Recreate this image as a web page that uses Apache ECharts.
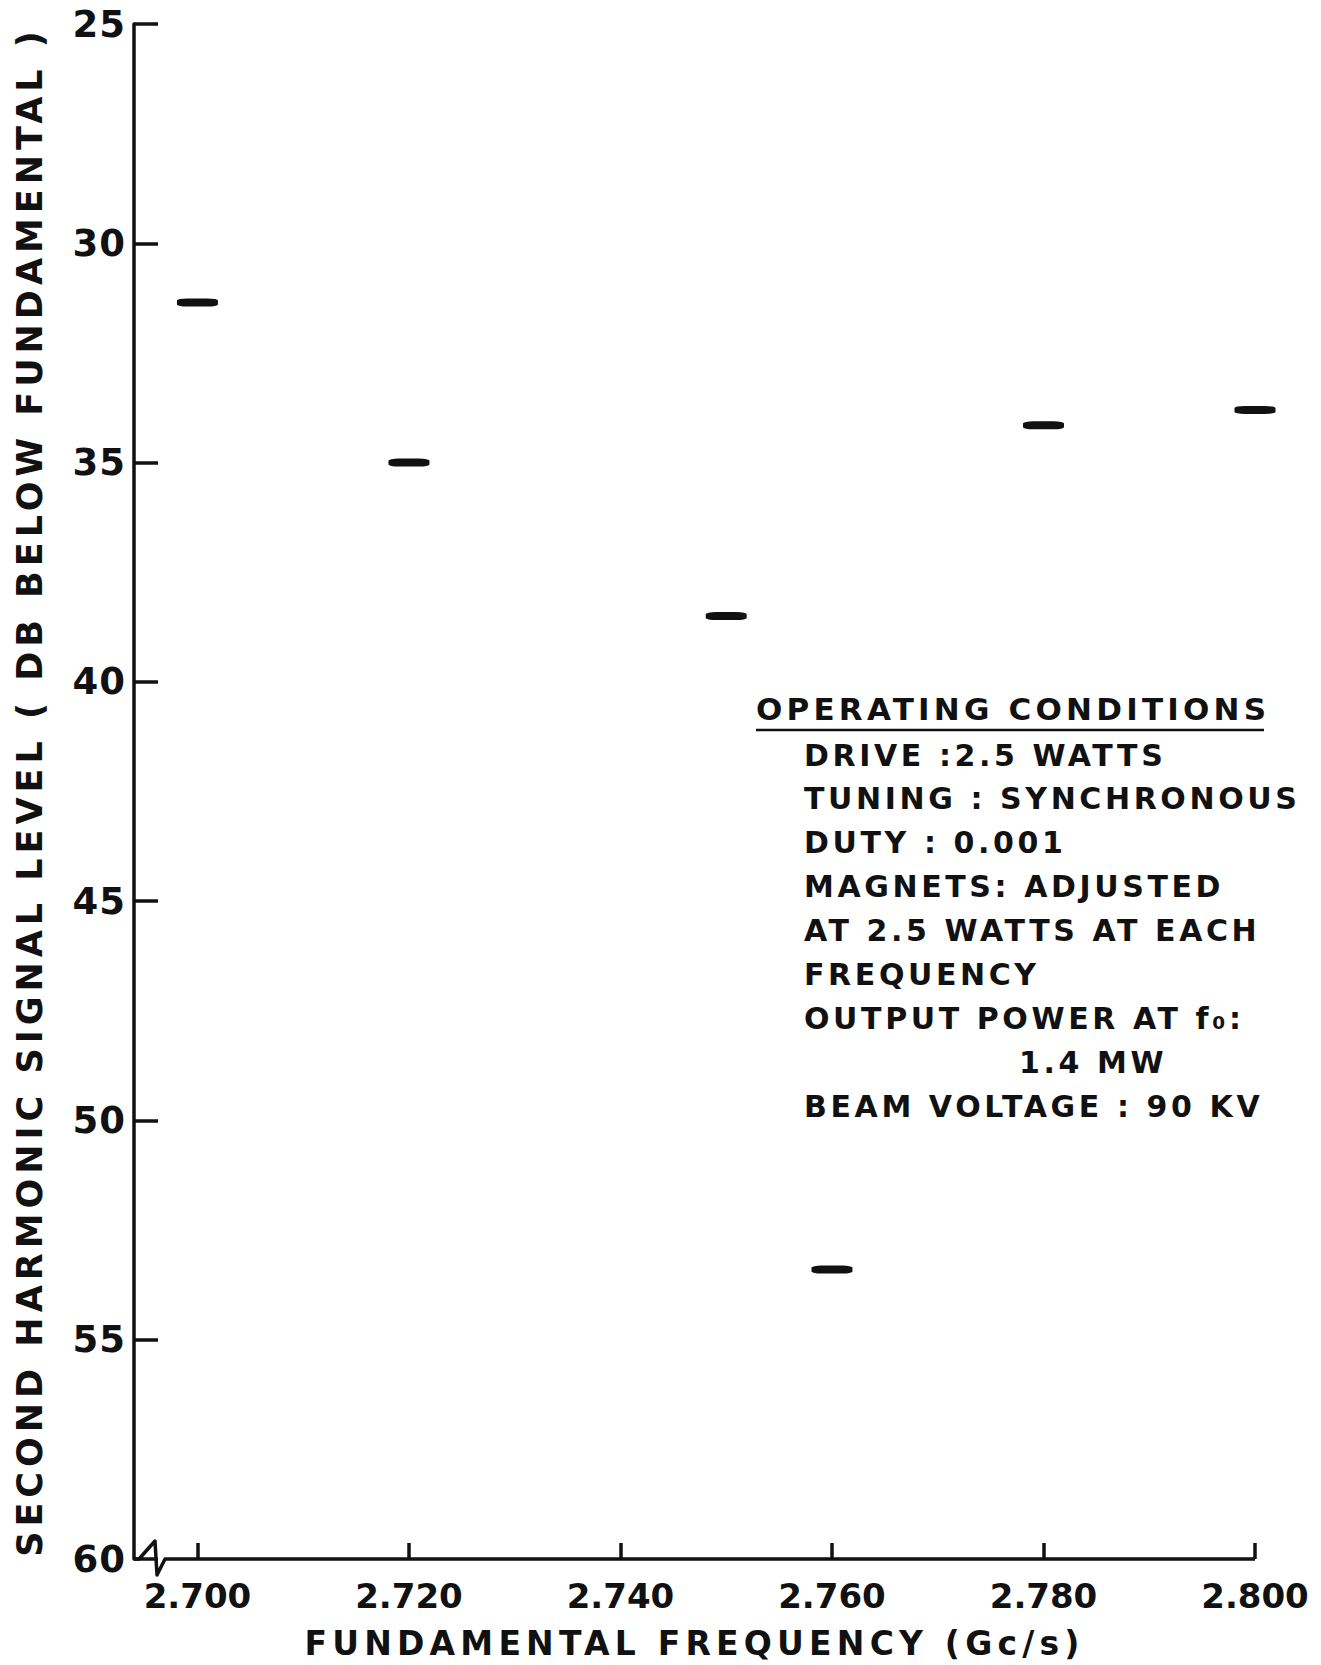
<!DOCTYPE html>
<html>
<head>
<meta charset="utf-8">
<style>
    html, body { margin: 0; background: #fff; }
    #main { width: 1321px; height: 1665px; }
    /* hand lettering is widely spaced */
    #main text[style*="37px"] { letter-spacing: 1px; }
    #main text[style*="34px"] { letter-spacing: 0px; }
    #main text[style*="33px"] { letter-spacing: 5.2px; }
    #main text[style*="35px"] { letter-spacing: 5px; }
    #main text[style*="31px"] { letter-spacing: 4.2px; }
    #main text[style*="30px"] { letter-spacing: 3.6px; }
</style>
</head>
<body>
<div id="main"></div>
<script src="https://cdn.jsdelivr.net/npm/echarts@6.0.0/dist/echarts.min.js"></script>
<script type="text/javascript">
var freqs  = [2.700, 2.720, 2.750, 2.760, 2.780, 2.800];
var levels = [31.35, 35.0, 38.5, 53.4, 34.15, 33.8];
var xTicks = [2.700, 2.720, 2.740, 2.760, 2.780, 2.800];

var noteTitle = 'OPERATING CONDITIONS';
var notes = [
    'DRIVE :2.5 WATTS',
    'TUNING : SYNCHRONOUS',
    'DUTY : 0.001',
    'MAGNETS: ADJUSTED',
    'AT 2.5 WATTS AT EACH',
    'FREQUENCY',
    'OUTPUT POWER AT f\u2080:',
    '1.4 MW',
    'BEAM VOLTAGE : 90 KV'
];

var ink = '#111';
var font = 'DejaVu Sans';

var chart = echarts.init(document.getElementById('main'), null, {renderer: 'svg'});

var option = {
    backgroundColor: '#fff',
    animation: false,
    grid: {left: 134, right: 66, top: 24, bottom: 104, containLabel: false},
    xAxis: {
        type: 'value',
        min: 2.694,
        max: 2.8,
        axisLine: {show: false, onZero: false},
        axisTick: {
            show: true, inside: true, length: 16,
            customValues: xTicks,
            lineStyle: {color: ink, width: 3.5}
        },
        axisLabel: {
            customValues: xTicks,
            formatter: function (v) { return v.toFixed(3); },
            fontSize: 34, fontWeight: 'bold', fontFamily: font, color: ink, margin: 20
        },
        splitLine: {show: false},
        name: 'FUNDAMENTAL FREQUENCY (Gc/s)',
        nameLocation: 'middle',
        nameGap: 68,
        nameTextStyle: {fontSize: 33, fontWeight: 'bold', fontFamily: font, color: ink}
    },
    yAxis: {
        type: 'value',
        inverse: true,
        min: 25,
        max: 60,
        interval: 5,
        axisLine: {show: true, onZero: false, lineStyle: {color: ink, width: 3.5}},
        axisTick: {show: true, inside: true, length: 24, lineStyle: {color: ink, width: 3.5}},
        axisLabel: {fontSize: 37, fontWeight: 'bold', fontFamily: font, color: ink, margin: 8},
        splitLine: {show: false},
        name: 'SECOND HARMONIC SIGNAL LEVEL ( DB BELOW FUNDAMENTAL )',
        nameLocation: 'middle',
        nameGap: 87,
        nameTextStyle: {fontSize: 35, fontWeight: 'bold', fontFamily: font, color: ink}
    },
    series: [{
        type: 'scatter',
        symbol: 'roundRect',
        symbolSize: [41, 8],
        itemStyle: {color: ink, opacity: 1},
        data: freqs.map(function (f, i) { return [f, levels[i]]; })
    }]
};
chart.setOption(option);

// x axis line with the break mark next to the origin
var o = chart.convertToPixel({gridIndex: 0}, [2.694, 60]);
var e = chart.convertToPixel({gridIndex: 0}, [2.8, 60]);
var brk = [[0, 0], [5, 0], [21, -18], [23, 16], [31, 0]];
var pts = brk.map(function (p) { return [o[0] + p[0], o[1] + p[1]]; });
pts.push([e[0], e[1]]);

var graphics = [{
    type: 'polyline',
    shape: {points: pts},
    style: {stroke: ink, lineWidth: 3.5, fill: null, lineJoin: 'round'}
}, {
    type: 'text', x: 756, y: 709,
    style: {text: noteTitle, fontSize: 31, fontWeight: 'bold', fontFamily: font, fill: ink, verticalAlign: 'middle'}
}, {
    type: 'line',
    shape: {x1: 756, y1: 730, x2: 1264, y2: 730},
    style: {stroke: ink, lineWidth: 2.5}
}];
notes.forEach(function (t, i) {
    graphics.push({
        type: 'text',
        x: t === '1.4 MW' ? 1019 : 804,
        y: 755 + i * 43.9,
        style: {text: t, fontSize: 30, fontWeight: 'bold', fontFamily: font, fill: ink, verticalAlign: 'middle'}
    });
});
chart.setOption({graphic: graphics});
</script>
</body>
</html>
